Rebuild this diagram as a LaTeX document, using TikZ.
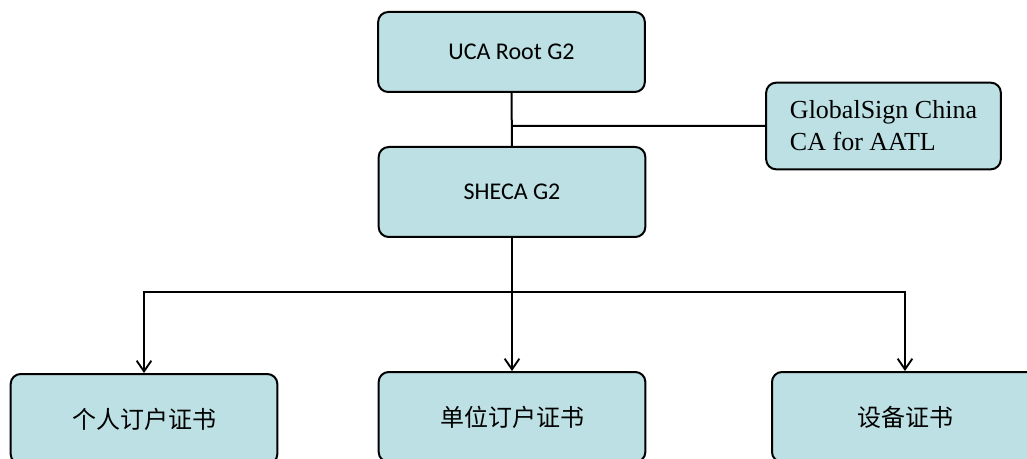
\documentclass[tikz,border=0pt]{standalone}
\usepackage{fontspec}
\setmainfont{Carlito}
\newfontfamily\timesfont{Liberation Serif}
\newfontfamily\cjk{Noto Sans CJK SC}
\usepackage{tikz}
\usetikzlibrary{positioning,arrows.meta,calc}

\definecolor{cafill}{RGB}{188,224,227}

\begin{document}
\begin{tikzpicture}[x=0.75pt,y=-0.75pt,line width=1.5pt,
    >={Straight Barb[length=8pt,width=11pt,line width=1.4pt]},
    ca/.style={rectangle, rounded corners=7.5pt, draw=black, fill=cafill,
      line width=1.5pt, minimum width=200pt, minimum height=67.5pt,
      font=\fontsize{18pt}{22pt}\selectfont},
    cert/.style={ca, font=\cjk\fontsize{18pt}{22pt}\selectfont}]
  \useasboundingbox (0,0) rectangle (1027,459);
  \clip (0,0) rectangle (1027,459);
  \node[ca, minimum height=60pt] (uca) at (511.5,52) {UCA Root G2};
  \node[ca] (sheca) at (512,192) {SHECA G2};
  \node[ca, minimum width=176pt, minimum height=65pt, align=left,
    font=\timesfont\fontsize{19.5pt}{24pt}\selectfont] (gsign) at (883.5,126) {GlobalSign China\\CA for AATL};
  \node[cert] (geren) at (144,419) {个人订户证书};
  \node[cert] (danwei) at (512,417) {单位订户证书};
  \node[cert, minimum width=199.5pt] (shebei) at (905,417) {设备证书};
  \coordinate (join) at ($(uca.south)!0.5!(sheca.north)$);
  \coordinate (fork) at (512,292);
  \path[draw]
    (uca) -- (sheca)
    (gsign.west) -- (gsign.west -| join);
  \draw (sheca.south) -- (fork);
  \draw[->] (fork) -| (geren.north);
  \draw[->] (fork) -- (danwei.north);
  \draw[->] (fork) -| (shebei.north);
\end{tikzpicture}
\end{document}
